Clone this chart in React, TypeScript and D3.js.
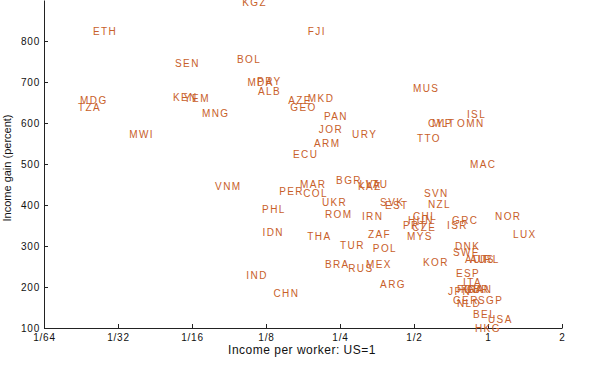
import React, { useEffect, useRef } from 'react';
import * as d3 from 'd3';

// country codes, income per worker (US=1) and income gain (percent)
const codes = [
  'KGZ', 'ETH', 'FJI', 'SEN', 'BOL', 'MDA', 'PRY', 'ALB', 'AZE', 'MKD',
  'GEO', 'PAN', 'JOR', 'URY', 'ARM', 'ECU', 'MDG', 'TZA', 'MWI', 'KEN',
  'YEM', 'MNG', 'MUS', 'ISL', 'OMN', 'CYP', 'MLT', 'TTO', 'MAC', 'VNM',
  'PER', 'COL', 'MAR', 'BGR', 'LVA', 'LTU', 'KAZ', 'UKR', 'ROM', 'IRN',
  'SVK', 'EST', 'THA', 'ZAF', 'TUR', 'POL', 'PHL', 'IDN', 'BRA', 'RUS',
  'MEX', 'IND', 'CHN', 'ARG', 'SVN', 'NZL', 'CHL', 'HUN', 'PRT', 'CZE',
  'MYS', 'GRC', 'ISR', 'NOR', 'LUX', 'KOR', 'DNK', 'SWE', 'AUT', 'AUS',
  'IRL', 'ESP', 'ITA', 'JPN', 'FIN', 'FRA', 'GBR', 'CAN', 'GER', 'NLD',
  'SGP', 'BEL', 'USA', 'HKG',
];

const income = [
  0.100, 0.0247, 0.185, 0.0533, 0.0953, 0.105, 0.115, 0.116, 0.154, 0.185,
  0.157, 0.215, 0.205, 0.280, 0.196, 0.161, 0.0219, 0.0215, 0.0347, 0.0523,
  0.058, 0.0686, 0.495, 0.821, 0.748, 0.570, 0.592, 0.514, 0.845, 0.0776,
  0.1415, 0.177, 0.172, 0.241, 0.300, 0.319, 0.296, 0.211, 0.217, 0.307,
  0.364, 0.381, 0.184, 0.325, 0.25, 0.340, 0.1205, 0.121, 0.217, 0.270,
  0.319, 0.104, 0.134, 0.364, 0.549, 0.570, 0.495, 0.473, 0.451, 0.491,
  0.468, 0.714, 0.681, 1.068, 1.264, 0.544, 0.734, 0.720, 0.806, 0.845,
  0.928, 0.741, 0.791, 0.688, 0.748, 0.776, 0.799, 0.821, 0.720, 0.748,
  0.911, 0.869, 1.0, 0.885,
];

const gain = [
  895, 822, 822, 746, 754, 700, 702, 678, 654, 659,
  639, 617, 585, 571, 551, 524, 656, 637, 573, 661,
  659, 622, 683, 620, 598, 598, 598, 561, 500, 444,
  432, 429, 449, 459, 451, 449, 444, 405, 378, 373,
  407, 400, 322, 327, 302, 293, 390, 334, 254, 244,
  256, 229, 183, 205, 427, 402, 371, 361, 351, 344,
  324, 361, 351, 371, 329, 259, 300, 283, 268, 268,
  268, 232, 212, 190, 195, 195, 195, 195, 168, 159,
  166, 134, 120, 100,
];

const xTicks = [1 / 64, 1 / 32, 1 / 16, 1 / 8, 1 / 4, 1 / 2, 1, 2];
const xTickLabels = ['1/64', '1/32', '1/16', '1/8', '1/4', '1/2', '1', '2'];
const yTicks = [100, 200, 300, 400, 500, 600, 700, 800];

const width = 600;
const height = 371;
const labelColor = '#c8602a';
const font = 'Liberation Sans, Arial, Helvetica, sans-serif';

function App() {
  const node = useRef(null);

  useEffect(() => {
    const svg = d3.select(node.current);
    svg.selectAll('*').remove();

    const x = d3.scaleLog().base(2).domain([1 / 64, 2]).range([44, 562]);
    const y = d3.scaleLinear().domain([100, 900]).range([328, 0]);

    // axes (matlab style, ticks inside)
    const xAxis = svg.append('g').attr('transform', `translate(0, ${y(100)})`)
      .call(d3.axisBottom(x).tickValues(xTicks).tickSize(-4).tickSizeOuter(0)
        .tickFormat((d, i) => xTickLabels[i]));
    xAxis.select('.domain').attr('stroke', '#222');
    xAxis.selectAll('line').attr('stroke', '#222');
    xAxis.selectAll('text')
      .attr('y', 6)
      .attr('fill', '#111')
      .style('font', `10px ${font}`)
      .style('letter-spacing', '0.8px');

    const yAxis = svg.append('g').attr('transform', `translate(${x(1 / 64)}, 0)`)
      .call(d3.axisLeft(y).tickValues(yTicks).tickSize(-4).tickSizeOuter(0)
        .tickFormat(d3.format('d')));
    yAxis.select('.domain').attr('stroke', '#222');
    yAxis.selectAll('line').attr('stroke', '#222');
    yAxis.selectAll('text')
      .attr('x', -4)
      .attr('fill', '#111')
      .style('font', `10px ${font}`)
      .style('letter-spacing', '0.8px');

    // country labels, left aligned at data point
    svg.append('g')
      .selectAll('text')
      .data(codes)
      .enter()
      .append('text')
      .attr('x', (d, i) => x(income[i]))
      .attr('y', (d, i) => y(gain[i]))
      .attr('dy', '0.35em')
      .attr('fill', labelColor)
      .style('font', `10px ${font}`)
      .style('letter-spacing', '1.4px')
      .text(d => d);

    // axis titles
    svg.append('text')
      .attr('x', 302)
      .attr('y', 354)
      .attr('text-anchor', 'middle')
      .attr('fill', '#111')
      .style('font', `12px ${font}`)
      .style('letter-spacing', '0.5px')
      .text('Income per worker: US=1');

    svg.append('text')
      .attr('transform', 'translate(11, 168) rotate(-90)')
      .attr('text-anchor', 'middle')
      .attr('fill', '#111')
      .style('font', `11px ${font}`)
      .text('Income gain (percent)');
  }, []);

  return (
    <svg
      ref={node}
      width={width}
      height={height}
      style={{ position: 'absolute', left: 0, top: 0, background: '#fff' }}
    />
  );
}

export default App;
